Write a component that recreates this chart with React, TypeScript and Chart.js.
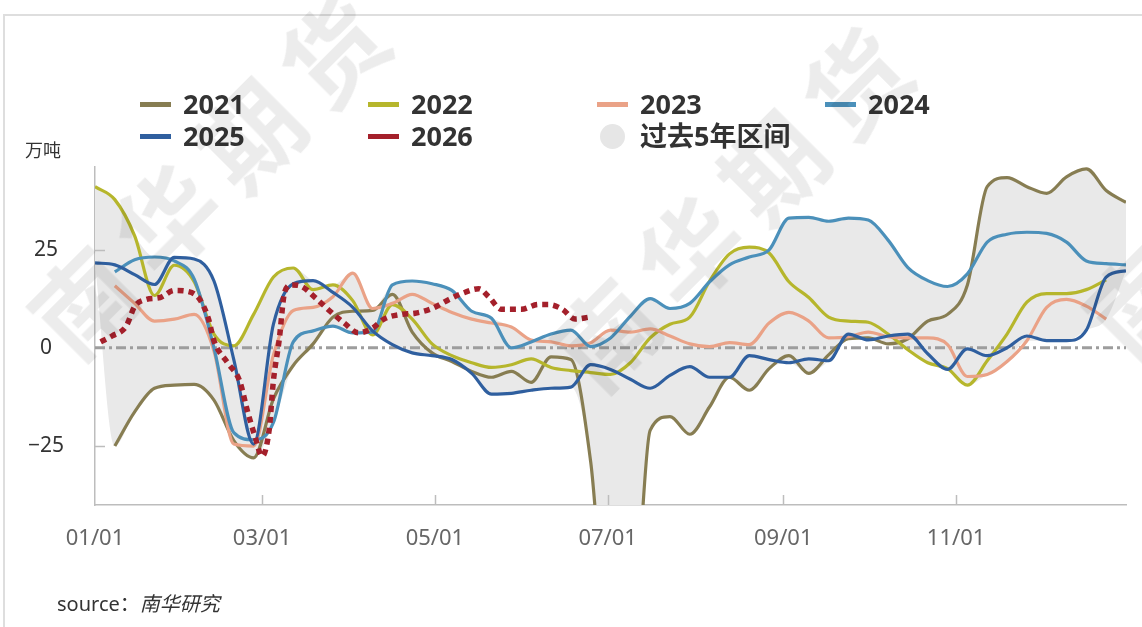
import React, { useEffect, useRef } from "react";
import { Chart, registerables } from "chart.js";

Chart.register(...registerables);

// ---- data (values in 万吨, x = day of year) ----
const days = [0, 7, 14, 21, 28, 35, 42, 49, 56, 63, 70, 77, 84, 91, 98, 105, 112, 119, 126, 133, 140, 147, 154, 161, 168, 175, 182, 189, 196, 203, 210, 217, 224, 231, 238, 245, 252, 259, 266, 273, 280, 287, 294, 301, 308, 315, 322, 329, 336, 343, 350, 357, 364];

const y2021 = [null, -25, -16.3, -10.3, -9.5, -9.3, -13.3, -23.6, -28, -13, -4.5, 1, 7.8, 9.3, 9.5, 13.6, 4, -1.3, -3.5, -6, -7.5, -6, -8.8, -2.3, -3, -29, -80, -80, -21, -17.5, -22, -15, -7.5, -10.8, -5.3, -2, -6.5, -1.8, 2.3, 2.5, 1, 2.3, 6.8, 8.5, 16, 41, 43.3, 41, 39.3, 43.5, 45.5, 40, 37];
const y2022 = [41, 37.7, 28.5, 13.3, 21, 16.8, 3.5, 0.5, 8.5, 18, 20.3, 14.8, 16, 12, 3.3, 11, 7.3, 1, -2, -3.8, -5, -4.3, -2.8, -5, -5.8, -6.3, -6.8, -3.8, 2.5, 6, 7.8, 17, 23.9, 25.6, 24.1, 16.8, 12.8, 7.8, 6.8, 6.5, 3.5, -0.5, -3.8, -5.3, -9.5, -3.3, 3.5, 11.6, 13.8, 13.8, 14.8, 17.3, null];
const y2023 = [null, 15.8, 11.3, 6.8, 7.3, 8.5, -0.8, -24.5, -25, -1.8, 9.5, 10.3, 13, 19, 10, 11.3, 13.6, 11.3, 9, 7.3, 6.3, 5.3, 2, 1.5, 0.5, 1.3, 4.5, 4, 4.8, 3, 1, 0.3, 1.3, 0.8, 6.3, 9, 6.8, 2.5, 2.8, 4, 2.8, 2.5, 2.5, 0.8, -7.3, -6.8, -3.5, 1.8, 10.3, 12.3, 10.6, 7.3, null];
const y2024 = [null, 19.3, 22.4, 23.1, 22.1, 17.5, 0, -21.6, -23.4, -19, 1.5, 4.3, 5.5, 3.8, 4, 16, 17, 16.3, 14.6, 9.3, 7.5, 0, 1.5, 3.5, 4.5, 0.3, 2.5, 8, 12.5, 10, 11.3, 16.8, 21.1, 23.1, 24.9, 33, 33.2, 32.2, 33, 32.5, 27.4, 20.4, 17.1, 15.6, 18.8, 26.9, 28.9, 29.4, 29.1, 26.9, 22.1, 21.4, 21.1];
const y2025 = [21.6, 21.1, 18.6, 16.1, 23, 22.6, 17, -3, -24.5, 6, 16.3, 17.1, 14.1, 10.3, 4.3, 0.8, -1.3, -2, -3, -6.5, -11.8, -11.6, -10.8, -10.3, -10, -4.3, -5.5, -8, -10.3, -7, -4.8, -7.5, -7.5, -2, -3, -3.8, -2.8, -3.3, 3.5, 2, 3, 3.5, -1.5, -5.5, -0.3, -2, 0, 3, 1.8, 1.8, 4.5, 18, 19.6];

const days2026 = [2, 6, 11, 14, 18, 23, 28, 33, 37, 40, 42, 47, 51, 54, 56.5, 59, 61.5, 63, 65, 67, 69.5, 73, 78, 83, 88, 93, 98, 102, 108, 113, 119, 125, 129.5, 135.5, 139, 143.5, 150.5, 156.5, 160, 165, 169.5, 174.5];
const y2026 = [1.5, 3, 5.5, 10.5, 12.3, 12.8, 14.6, 14.3, 12.3, 7.5, 1.8, -4, -8.3, -16.6, -22.6, -27.6, -20.8, -8.3, 1.8, 14.3, 16, 15.6, 12.6, 9.3, 6.3, 3.8, 5, 7.3, 8.5, 8.8, 10, 12.3, 13.8, 15, 13, 9.8, 9.8, 11, 11, 9.8, 7.3, 7.8];

const zeroDays = [0, 364];
const zeroVals = [0, 0];

const tickDays = [0, 59, 120, 181, 243, 304];
const tickLabels = ["01/01", "03/01", "05/01", "07/01", "09/01", "11/01"];
const yTicks = [-25, 0, 25];

const seriesNames = ["2021", "2022", "2023", "2024", "2025", "2026"];
const seriesColors = ["#877d52", "#b6b62c", "#eaa287", "#4b90ba", "#2f5f9f", "#a4202b"];
const bandName = "过去5年区间";

const FONT = '"Noto Sans", "Noto Sans CJK SC", sans-serif';

const toXY = (xs: number[], ys: (number | null)[]) => xs.map((x, i) => ({ x, y: ys[i] }));

const tickMarks = {
  id: "tickMarks",
  afterDatasetsDraw(chart: any) {
    const { ctx, chartArea, scales } = chart;
    const x = scales.x;
    const y = scales.y;
    ctx.save();
    ctx.strokeStyle = "#bdbdbd";
    ctx.lineWidth = 1.5;
    tickDays.slice(1).forEach((d) => {
      const px = Math.round(x.getPixelForValue(d)) + 0.5;
      ctx.beginPath();
      ctx.moveTo(px, chartArea.bottom);
      ctx.lineTo(px, chartArea.bottom - 10);
      ctx.stroke();
    });
    [25, -25].forEach((v) => {
      const py = Math.round(y.getPixelForValue(v)) + 0.5;
      ctx.beginPath();
      ctx.moveTo(chartArea.left, py);
      ctx.lineTo(chartArea.left + 10, py);
      ctx.stroke();
    });
    ctx.restore();
  },
};

export default function App() {
  const ref = useRef<HTMLCanvasElement>(null);

  useEffect(() => {
    if (!ref.current) return;
    const past = [y2021, y2022, y2023, y2024, y2025];
    const bandHigh = days.map((_, i) => {
      const vs = past.map((s) => s[i]).filter((v) => v !== null) as number[];
      return vs.length ? Math.max(...vs) : null;
    });
    const bandLow = days.map((_, i) => {
      const vs = past.map((s) => s[i]).filter((v) => v !== null) as number[];
      return vs.length ? Math.min(...vs) : null;
    });

    const lineDs = (label: string, data: any, color: string, order: number, extra: any = {}) => ({
      label,
      data,
      borderColor: color,
      backgroundColor: color,
      borderWidth: 3.2,
      pointRadius: 0,
      fill: false,
      cubicInterpolationMode: "monotone",
      spanGaps: false,
      order,
      ...extra,
    });

    const chart = new Chart(ref.current, {
      type: "line",
      data: {
        datasets: [
          {
            label: bandName + "上",
            data: toXY(days, bandHigh),
            borderWidth: 0,
            borderColor: "rgba(0,0,0,0)",
            backgroundColor: "#e9e9e9",
            pointRadius: 0,
            fill: "+1",
            cubicInterpolationMode: "monotone",
            order: 30,
          },
          {
            label: bandName + "下",
            data: toXY(days, bandLow),
            borderWidth: 0,
            borderColor: "rgba(0,0,0,0)",
            pointRadius: 0,
            fill: false,
            cubicInterpolationMode: "monotone",
            order: 29,
          },
          lineDs("zero", toXY(zeroDays, zeroVals), "#9d9d9d", 20, { borderDash: [10, 4, 3, 4], borderWidth: 3 }),
          lineDs(seriesNames[0], toXY(days, y2021), seriesColors[0], 10),
          lineDs(seriesNames[1], toXY(days, y2022), seriesColors[1], 9),
          lineDs(seriesNames[2], toXY(days, y2023), seriesColors[2], 8),
          lineDs(seriesNames[3], toXY(days, y2024), seriesColors[3], 7),
          lineDs(seriesNames[4], toXY(days, y2025), seriesColors[4], 6),
          lineDs(seriesNames[5], toXY(days2026, y2026), seriesColors[5], 1, {
            borderWidth: 5.5,
            borderDash: [6, 5],
            borderCapStyle: "butt",
          }),
        ],
      },
      options: {
        animation: false,
        responsive: false,
        devicePixelRatio: 1,
        layout: { padding: { top: 167, right: 16, bottom: 0, left: 0 } },
        plugins: { legend: { display: false }, tooltip: { enabled: false } },
        scales: {
          x: {
            type: "linear",
            min: 0,
            max: 364,
            z: 1,
            afterBuildTicks: (s: any) => {
              s.ticks = tickDays.map((v) => ({ value: v }));
            },
            afterFit: (s: any) => {
              s.height = 122;
            },
            ticks: {
              autoSkip: false,
              maxRotation: 0,
              padding: 21,
              color: "#666",
              font: { family: FONT, size: 22 },
              callback: (v: any) => {
                const i = tickDays.indexOf(Number(v));
                return i >= 0 ? tickLabels[i] : "";
              },
            },
            grid: { display: false, drawTicks: false },
            border: { display: true, color: "#bdbdbd", width: 1.5 },
          },
          y: {
            min: -40,
            max: 46,
            z: 1,
            afterBuildTicks: (s: any) => {
              s.ticks = yTicks.map((v) => ({ value: v }));
            },
            afterFit: (s: any) => {
              s.width = 95;
            },
            ticks: {
              crossAlign: "center",
              padding: 31,
              color: "#333",
              font: { family: FONT, size: 21 },
              callback: (v: any) => (Number(v) < 0 ? "\u2212" + Math.abs(Number(v)) : String(v)),
            },
            grid: { display: false, drawTicks: false },
            border: { display: true, color: "#bdbdbd", width: 1.5 },
          },
        },
      },
      plugins: [tickMarks],
    } as any);
    return () => chart.destroy();
  }, []);

  const legendCols = [140, 368, 597, 825];
  const legendRows = [104, 136];
  const legendItems = [
    ...seriesNames.map((n, i) => ({ label: n, color: seriesColors[i], kind: "line" })),
    { label: bandName, color: "#e6e6e6", kind: "dot" },
  ];

  const watermarks = [
    [212, 168],
    [735, 200],
    [1267, 168],
  ];

  return (
    <div
      style={{
        position: "absolute",
        left: 0,
        top: 0,
        width: 1142,
        height: 627,
        overflow: "hidden",
        background: "#fff",
        fontFamily: FONT,
      }}
    >
      <div
        style={{
          position: "absolute",
          left: 3,
          top: 14,
          width: 1150,
          height: 700,
          borderTop: "2px solid #dedede",
          borderLeft: "2px solid #dedede",
        }}
      />
      <canvas ref={ref} width={1142} height={627} style={{ position: "absolute", left: 0, top: 0, width: 1142, height: 627 }} />
      {legendItems.map((it, i) => {
        const col = legendCols[i % 4];
        const row = legendRows[Math.floor(i / 4)];
        return (
          <div key={it.label} style={{ position: "absolute", left: col, top: row - 20, height: 40, display: "flex", alignItems: "center" }}>
            {it.kind === "line" ? (
              <div style={{ width: 31, height: 5, background: it.color }} />
            ) : (
              <div style={{ width: 25, height: 25, borderRadius: "50%", background: it.color, marginLeft: 3, marginRight: 3 }} />
            )}
            <span
              style={{
                marginLeft: 12,
                fontSize: 27,
                fontWeight: 700,
                color: "#333",
                fontFamily: '"Noto Sans", "Noto Sans CJK SC", sans-serif',
                lineHeight: "40px",
                whiteSpace: "nowrap",
              }}
            >
              {it.label}
            </span>
          </div>
        );
      })}
      <div style={{ position: "absolute", left: 25, top: 138, fontSize: 18, color: "#333", fontFamily: '"Noto Sans CJK SC", sans-serif', lineHeight: "22px" }}>
        万吨
      </div>
      <div style={{ position: "absolute", left: 57, top: 589, fontSize: 20, color: "#333", lineHeight: "28px", whiteSpace: "nowrap" }}>
        source：<span style={{ fontStyle: "italic", fontFamily: '"Noto Sans CJK SC", sans-serif' }}>南华研究</span>
      </div>
      {watermarks.map(([cx, cy], i) => (
        <div
          key={i}
          style={{
            position: "absolute",
            left: cx,
            top: cy,
            transform: "translate(-50%, -50%) rotate(-45deg)",
            fontSize: 100,
            fontWeight: 700,
            letterSpacing: 18,
            color: "rgba(0,0,0,0.075)",
            fontFamily: '"Noto Sans CJK SC", sans-serif',
            whiteSpace: "nowrap",
            pointerEvents: "none",
            lineHeight: "110px",
          }}
        >
          南华期货
        </div>
      ))}
    </div>
  );
}
